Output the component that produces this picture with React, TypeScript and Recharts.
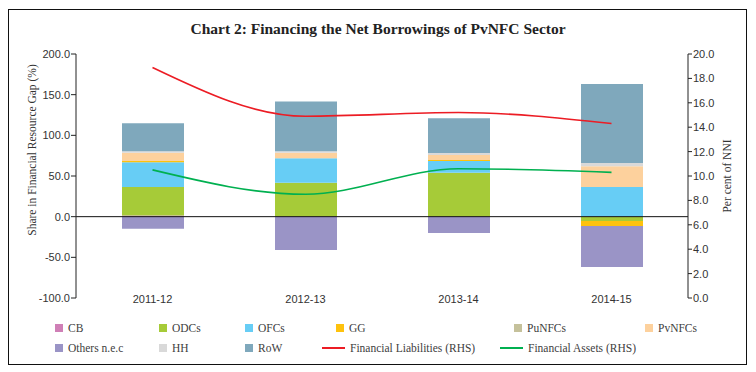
import { ComposedChart, Bar, Line, XAxis, YAxis, ReferenceLine } from 'recharts';

// values
const years = ['2011-12', '2012-13', '2013-14', '2014-15'];
const cb = [1.5, 0, 0, 0];
const odcs = [35, 41.7, 54, -5.4];
const ofcs = [30.5, 30, 14.5, 36.5];
const gg = [1.5, 0, 1.2, -6.2];
const punfcs = [0, 0, 0, 0];
const pvnfcs = [10, 7, 6.2, 25.5];
const others = [-14.8, -41, -20, -50.4];
const hh = [2, 1.6, 2.4, 4];
const row = [34.5, 61.3, 42.7, 97];
const liabilities = [18.9, 14.9, 15.2, 14.3];
const assets = [10.5, 8.5, 10.6, 10.3];

const leftTicks = [-100, -50, 0, 50, 100, 150, 200];
const rightTicks = [0, 2, 4, 6, 8, 10, 12, 14, 16, 18, 20];

const data = years.map((y, i) => ({
   year: y, cb: cb[i], odcs: odcs[i], ofcs: ofcs[i], gg: gg[i], punfcs: punfcs[i],
   pvnfcs: pvnfcs[i], others: others[i], hh: hh[i], row: row[i],
   fl: liabilities[i], fa: assets[i],
}));

const bars = [
   { key: 'cb', name: 'CB', color: '#cf7fb6' },
   { key: 'odcs', name: 'ODCs', color: '#a6cb38' },
   { key: 'ofcs', name: 'OFCs', color: '#67cdf5' },
   { key: 'gg', name: 'GG', color: '#fec20d' },
   { key: 'punfcs', name: 'PuNFCs', color: '#c5c19b' },
   { key: 'pvnfcs', name: 'PvNFCs', color: '#fdd19d' },
   { key: 'others', name: 'Others n.e.c', color: '#9a94c6' },
   { key: 'hh', name: 'HH', color: '#d9d9d9' },
   { key: 'row', name: 'RoW', color: '#7fa8bc' },
];

const RED = '#ec1c24';
const GREEN = '#00b050';

const tickFont = { fontFamily: '"Liberation Sans", Arial, sans-serif', fontSize: 11, fill: '#333' };
const serif = '"Liberation Serif", "Times New Roman", serif';

// legend layout (page coords), two rows
const legendItems = [
   { name: 'CB', color: bars[0].color, x: 55, row: 0 },
   { name: 'ODCs', color: bars[1].color, x: 159, row: 0 },
   { name: 'OFCs', color: bars[2].color, x: 245, row: 0 },
   { name: 'GG', color: bars[3].color, x: 336, row: 0 },
   { name: 'PuNFCs', color: bars[4].color, x: 514, row: 0 },
   { name: 'PvNFCs', color: bars[5].color, x: 645, row: 0 },
   { name: 'Others n.e.c', color: bars[6].color, x: 55, row: 1 },
   { name: 'HH', color: bars[7].color, x: 159, row: 1 },
   { name: 'RoW', color: bars[8].color, x: 245, row: 1 },
   { name: 'Financial Liabilities (RHS)', color: RED, x: 322, row: 1, line: true },
   { name: 'Financial Assets (RHS)', color: GREEN, x: 500, row: 1, line: true },
];

function YearTick(props: any) {
   const { x, y, payload } = props;
   return (
      <text x={x} y={y + 3} textAnchor="middle" {...tickFont}>{payload.value}</text>
   );
}

export default function App() {
   const rowY = [327.5, 347.5];
   return (
      <div style={{ position: 'relative', width: 740, height: 358 }}>
         <div style={{ position: 'absolute', left: 0, top: 1, width: 739, height: 356, border: '1px solid #111', boxSizing: 'border-box' }} />
         <div style={{ position: 'absolute', left: 0, top: 12, width: 740, textAlign: 'center', fontFamily: serif, fontWeight: 'bold', fontSize: 15.5, lineHeight: '18px', color: '#222' }}>
            Chart 2: Financing the Net Borrowings of PvNFC Sector
         </div>
         <div style={{ position: 'absolute', left: 32 - 150 - 8, top: 150 - 8 - 7, width: 300, textAlign: 'center', fontFamily: serif, fontSize: 11.5, lineHeight: '14px', color: '#333', transform: 'rotate(-90deg)' }}>
            Share in Financial Resource Gap (%)
         </div>
         <div style={{ position: 'absolute', left: 727 - 150 - 8, top: 176 - 8 - 7, width: 300, textAlign: 'center', fontFamily: serif, fontSize: 11.5, lineHeight: '14px', color: '#333', transform: 'rotate(-90deg)' }}>
            Per cent of NNI
         </div>
         <div style={{ position: 'absolute', left: 0, top: 0 }}>
            <ComposedChart width={740} height={358} data={data} stackOffset="sign"
               margin={{ top: 46, right: 10, bottom: 48, left: 8 }} barSize={62}>
               <XAxis dataKey="year" height={20} axisLine={false} tickLine={false} tickSize={0} tick={<YearTick />} />
               <YAxis yAxisId="l" width={60} domain={[-100, 200]} ticks={leftTicks} allowDataOverflow
                  tickFormatter={(v: number) => v.toFixed(1)} stroke="#222" tickSize={5} tickMargin={1} tick={tickFont} />
               <YAxis yAxisId="r" orientation="right" width={50} domain={[0, 20]} ticks={rightTicks}
                  tickFormatter={(v: number) => v.toFixed(1)} stroke="#222" tickSize={4} tickMargin={1} tick={tickFont} />
               {bars.map(b => (
                  <Bar key={b.key} yAxisId="l" dataKey={b.key} name={b.name} stackId="a" fill={b.color} isAnimationActive={false} />
               ))}
               <ReferenceLine yAxisId="l" y={0} stroke="#111" strokeWidth={1} />
               <Line yAxisId="r" type="monotone" dataKey="fl" name="Financial Liabilities (RHS)" stroke={RED} strokeWidth={1.6} dot={false} isAnimationActive={false} />
               <Line yAxisId="r" type="monotone" dataKey="fa" name="Financial Assets (RHS)" stroke={GREEN} strokeWidth={1.6} dot={false} isAnimationActive={false} />
            </ComposedChart>
         </div>
         {legendItems.map(it => (
            <div key={it.name} style={{ position: 'absolute', left: it.x - 8, top: rowY[it.row] - 8 - 8, height: 16, display: 'flex', alignItems: 'center', fontFamily: serif, fontSize: 11.5, color: '#404040', whiteSpace: 'nowrap' }}>
               {it.line
                  ? <span style={{ display: 'inline-block', width: 23, height: 2, background: it.color, marginRight: 5 }} />
                  : <span style={{ display: 'inline-block', width: 8, height: 8, background: it.color, marginRight: 5 }} />}
               {it.name}
            </div>
         ))}
      </div>
   );
}
